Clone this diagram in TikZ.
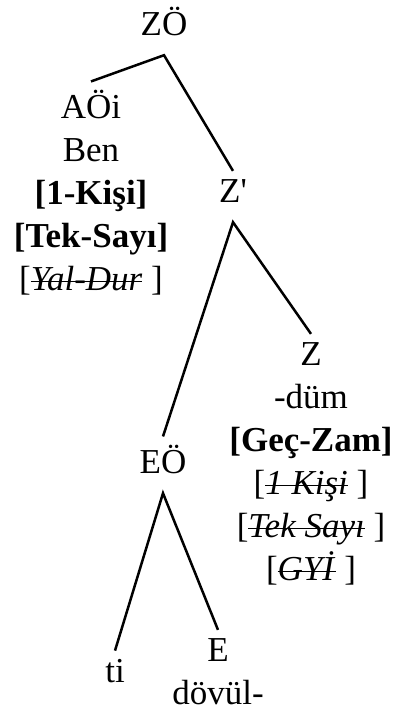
\documentclass[tikz,border=0pt]{standalone}
\usepackage{fontspec}
\setmainfont{Liberation Serif}
\newcommand{\FT}{\fontsize{35}{43}\selectfont}
\newsavebox{\strkbox}
\newcommand{\strk}[1]{\sbox{\strkbox}{\textit{#1}}\rlap{\rule[0.22em]{\wd\strkbox}{1.6pt}}\usebox{\strkbox}}

\begin{document}
\begin{tikzpicture}[x=1pt,y=-1pt]
\tikzstyle{cat}=[font=\FT,inner sep=8pt,text depth=12pt,anchor=base]
\tikzstyle{leaf}=[font=\FT,inner sep=8pt,align=center,anchor=base]
\tikzstyle{line}=[black,line width=2.5pt]

\useasboundingbox (0,0) rectangle (393,713);

% leaf nodes sit on the baseline of their last line
\node[cat] (zo) at (164,35) {ZÖ};
\node[leaf] (aoi) at (91,290) {AÖi\\Ben\\\textbf{[1-Kişi]}\\\textbf{[Tek-Sayı]}\\{}[\strk{Yal-Dur} ]};
\node[cat] (zp) at (233,202) {Z\textquotesingle};
\node[leaf] (z) at (311,580) {Z\\-düm\\\textbf{[Geç-Zam]}\\{}[\strk{1 Kişi} ]\\{}[\strk{Tek Sayı} ]\\{}[\strk{GYİ} ]};
\node[cat] (eo) at (163,473) {EÖ};
\node[leaf] (ti) at (115,682) {ti};
\node[leaf] (e) at (218,704) {E\\dövül-};

\draw[line] (aoi.north) -- (zo.south) -- (zp.north);
\draw[line] (eo.north) -- (zp.south) -- (z.north);
\draw[line] (ti.north) -- (eo.south) -- (e.north);
\end{tikzpicture}
\end{document}
